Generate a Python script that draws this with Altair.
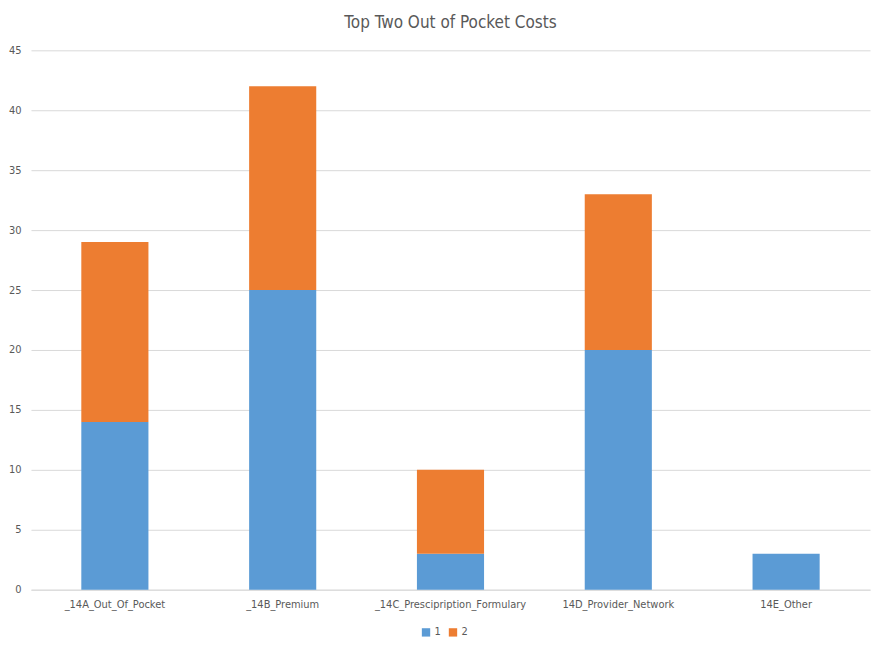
import altair as alt
import pandas as pd

categories = ["_14A_Out_Of_Pocket", "_14B_Premium", "_14C_Prescipription_Formulary",
              "14D_Provider_Network", "14E_Other"]
rank_1 = [14, 25, 3, 20, 3]
rank_2 = [15, 17, 7, 13, 0]

rows = []
for cat, a, b in zip(categories, rank_1, rank_2):
    rows.append({"category": cat, "series": "1", "count": a})
    rows.append({"category": cat, "series": "2", "count": b})
df = pd.DataFrame(rows)

font = "DejaVu Sans Condensed, Liberation Sans, sans-serif"

chart = alt.Chart(df).mark_bar().encode(
    alt.X("category:N", sort=categories, title=None)
        .scale(paddingInner=0.6, paddingOuter=0.3)
        .axis(labelAngle=0, ticks=False, domainColor="#d9d9d9", labelColor="#595959",
              labelFontSize=11, labelFont=font, labelPadding=9),
    alt.Y("count:Q", title=None, stack="zero")
        .scale(domain=[0, 45])
        .axis(values=list(range(0, 50, 5)), domain=False, ticks=False, gridColor="#d9d9d9",
              labelColor="#595959", labelFontSize=11, labelFont=font, labelPadding=10),
    alt.Color("series:N", title=None)
        .scale(domain=["1", "2"], range=["#5B9BD5", "#ED7D31"])
        .legend(orient="none", legendX=390, legendY=577, direction="horizontal",
                symbolType="square", labelColor="#595959", labelFontSize=11, labelFont=font,
                symbolSize=70, symbolStrokeWidth=0, columnPadding=6, labelOffset=3),
    order=alt.Order("series:N", sort="ascending"),
).properties(
    width=840,
    height=540,
    title=alt.TitleParams("Top Two Out of Pocket Costs", fontSize=17, fontWeight="normal",
                          color="#595959", font=font, offset=12),
    background="white",
    padding={"left": 0, "top": 6, "right": 8, "bottom": 8},
).configure_view(stroke=None)

chart.save("out.html", embed_options={"renderer": "svg", "actions": False})
